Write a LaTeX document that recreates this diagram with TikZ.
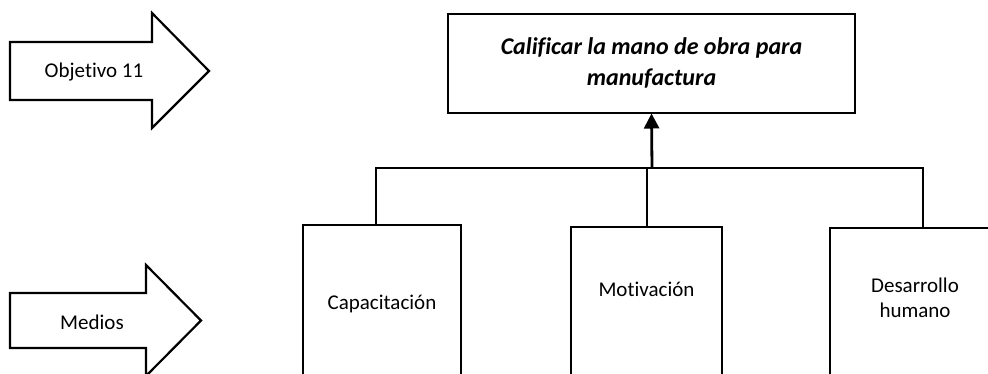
\documentclass[tikz,border=0pt]{standalone}
\usepackage{fontspec}
\setmainfont{Carlito}[Ligatures=NoCommon]
\usepackage{tikz}
\usetikzlibrary{arrows.meta,positioning,calc}

\begin{document}
\begin{tikzpicture}[
    x=1pt, y=-1pt,
    every node/.style={font=\fontsize{21}{25}\selectfont},
    bigarrow/.style={draw=black, line width=2.2pt, fill=white, line join=miter},
    goal/.style={rectangle, draw=black, line width=2pt, align=center, minimum width=407pt, minimum height=99pt, font=\fontsize{24}{31}\selectfont\bfseries\itshape},
    means/.style={rectangle, draw=black, line width=2pt, align=center, anchor=north, minimum height=160pt, inner sep=2pt},
    link/.style={draw=black, line width=2pt},
    uparrow/.style={-{Triangle[width=15pt,length=15pt]}, line width=2.8pt, draw=black}
]
\useasboundingbox (0,0) rectangle (988,373);

\draw[bigarrow] (10,42) -- (152,42) -- (152,13) -- (209,71) -- (152,128) -- (152,100) -- (10,100) -- cycle;
\node (obj) at (94,72) {Objetivo 11};

\draw[bigarrow] (10,293) -- (146,293) -- (146,265) -- (201,320.5) -- (146,376) -- (146,348) -- (10,348) -- cycle;
\node (medios) at (92,322) {Medios};

\node[goal] (meta) at (651.5,63) {Calificar la mano de obra para\\manufactura};

\node[means, minimum width=158pt, text depth=6pt] (cap) at (382,224) {Capacitación};
\node[means, minimum width=151pt, text depth=36pt] (mot) at (646.5,226) {Motivación};
\node[means, minimum width=170pt, text depth=20pt] (des) at (915,227) {Desarrollo\\humano};

\coordinate (hub) at (652,168);
\draw[link] ([xshift=-6pt]cap.north) |- (hub) -| ([xshift=8pt]des.north);
\draw[link] (mot.north) -- (mot.north |- hub);
\draw[uparrow] (hub) -- (meta.south);

\end{tikzpicture}
\end{document}
